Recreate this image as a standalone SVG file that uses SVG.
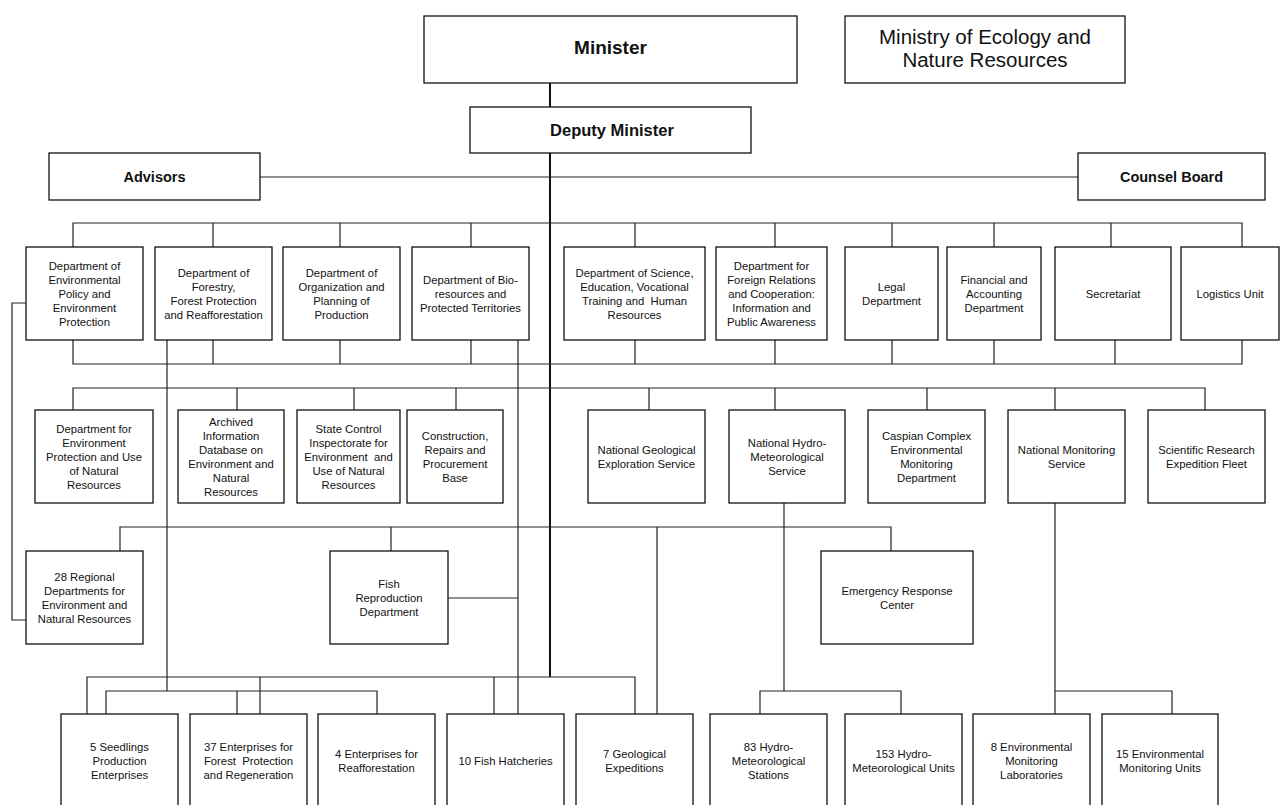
<svg xmlns="http://www.w3.org/2000/svg" width="1281" height="805" viewBox="0 0 1281 805">
<style>
.b{fill:#fff;stroke:#111;stroke-width:1.3}
.c{fill:none;stroke:#222;stroke-width:1.2}
.s{fill:none;stroke:#111;stroke-width:2}
text{font-family:"Liberation Sans",Arial,sans-serif;fill:#111;text-anchor:middle}
.t{font-size:11.3px;white-space:pre}
.h{font-weight:bold;font-size:14.5px}
</style>
<rect width="1281" height="805" fill="#fff"/>
<g id="connectors">
<path class="s" d="M550 83V107M550 153V677"/>
<path class="c" d="M260 177H1078"/>
<path class="c" d="M73 247V223H1242V247M213 223V247M340 223V247M471 223V247M635 223V247M775 223V247M892 223V247M994 223V247M1111 223V247"/>
<path class="c" d="M73 340V364H1242V340M213 340V364M340 340V364M471 340V364M635 340V364M775 340V364M892 340V364M994 340V364M1115 340V364"/>
<path class="c" d="M73 410V388H1205V410M237 388V410M354 388V410M456 388V410M649 388V410M775 388V410M927 388V410M1055 388V410"/>
<path class="c" d="M167 340V691M518 340V714M448 598H518"/>
<path class="c" d="M26 303H12V620H26"/>
<path class="c" d="M120 551V527H891V551M391 527V551M657 527V714"/>
<path class="c" d="M87 714V677H635V714M260 677V714M494 677V714"/>
<path class="c" d="M106 714V691H377V714M237 691V714"/>
<path class="c" d="M784 503V691M760 714V691H901V714"/>
<path class="c" d="M1055 503V714M1055 691H1172V714"/>
</g>
<g id="minister"><rect class="b" x="424" y="16" width="373" height="67"/><text x="610.5" y="54" style="font-size:19px;font-weight:bold">Minister</text></g>
<g id="ministry"><rect class="b" x="845" y="16" width="280" height="67"/><text x="985" y="44" style="font-size:20.5px">Ministry of Ecology and</text><text x="985" y="67" style="font-size:20.5px">Nature Resources</text></g>
<g id="deputy"><rect class="b" x="470" y="107" width="281" height="46"/><text x="612" y="136" style="font-size:16.5px;font-weight:bold">Deputy Minister</text></g>
<g id="advisors"><rect class="b" x="49" y="153" width="211" height="47"/><text class="h" x="154.5" y="182">Advisors</text></g>
<g id="counsel"><rect class="b" x="1078" y="153" width="187" height="47"/><text class="h" x="1171.5" y="182">Counsel Board</text></g>

<g id="d1"><rect class="b" x="26" y="247" width="117" height="93"/><text class="t" x="84.5" y="269.5"><tspan x="84.5">Department of</tspan><tspan x="84.5" dy="14">Environmental</tspan><tspan x="84.5" dy="14">Policy and</tspan><tspan x="84.5" dy="14">Environment</tspan><tspan x="84.5" dy="14">Protection</tspan></text></g>
<g id="d2"><rect class="b" x="155" y="247" width="117" height="93"/><text class="t" x="213.5" y="276.5"><tspan x="213.5">Department of</tspan><tspan x="213.5" dy="14">Forestry,</tspan><tspan x="213.5" dy="14">Forest Protection</tspan><tspan x="213.5" dy="14">and Reafforestation</tspan></text></g>
<g id="d3"><rect class="b" x="283" y="247" width="117" height="93"/><text class="t" x="341.5" y="276.5"><tspan x="341.5">Department of</tspan><tspan x="341.5" dy="14">Organization and</tspan><tspan x="341.5" dy="14">Planning of</tspan><tspan x="341.5" dy="14">Production</tspan></text></g>
<g id="d4"><rect class="b" x="412" y="247" width="117" height="93"/><text class="t" x="470.5" y="283.5"><tspan x="470.5">Department of Bio-</tspan><tspan x="470.5" dy="14">resources and</tspan><tspan x="470.5" dy="14">Protected Territories</tspan></text></g>
<g id="d5"><rect class="b" x="564" y="247" width="141" height="93"/><text class="t" x="634.5" y="276.5"><tspan x="634.5">Department of Science,</tspan><tspan x="634.5" dy="14">Education, Vocational</tspan><tspan x="634.5" dy="14">Training and  Human</tspan><tspan x="634.5" dy="14">Resources</tspan></text></g>
<g id="d6"><rect class="b" x="716" y="247" width="111" height="93"/><text class="t" x="771.5" y="269.5"><tspan x="771.5">Department for</tspan><tspan x="771.5" dy="14">Foreign Relations</tspan><tspan x="771.5" dy="14">and Cooperation:</tspan><tspan x="771.5" dy="14">Information and</tspan><tspan x="771.5" dy="14">Public Awareness</tspan></text></g>
<g id="d7"><rect class="b" x="845" y="247" width="93" height="93"/><text class="t" x="891.5" y="290.5"><tspan x="891.5">Legal</tspan><tspan x="891.5" dy="14">Department</tspan></text></g>
<g id="d8"><rect class="b" x="947" y="247" width="94" height="93"/><text class="t" x="994" y="283.5"><tspan x="994">Financial and</tspan><tspan x="994" dy="14">Accounting</tspan><tspan x="994" dy="14">Department</tspan></text></g>
<g id="d9"><rect class="b" x="1055" y="247" width="116" height="93"/><text class="t" x="1113" y="297.5">Secretariat</text></g>
<g id="d10"><rect class="b" x="1181" y="247" width="98" height="93"/><text class="t" x="1230" y="297.5">Logistics Unit</text></g>

<g id="s1"><rect class="b" x="35" y="410" width="118" height="93"/><text class="t" x="94" y="432.5"><tspan x="94">Department for</tspan><tspan x="94" dy="14">Environment</tspan><tspan x="94" dy="14">Protection and Use</tspan><tspan x="94" dy="14">of Natural</tspan><tspan x="94" dy="14">Resources</tspan></text></g>
<g id="s2"><rect class="b" x="178" y="410" width="106" height="93"/><text class="t" x="231" y="425.5"><tspan x="231">Archived</tspan><tspan x="231" dy="14">Information</tspan><tspan x="231" dy="14">Database on</tspan><tspan x="231" dy="14">Environment and</tspan><tspan x="231" dy="14">Natural</tspan><tspan x="231" dy="14">Resources</tspan></text></g>
<g id="s3"><rect class="b" x="297" y="410" width="103" height="93"/><text class="t" x="348.5" y="432.5"><tspan x="348.5">State Control</tspan><tspan x="348.5" dy="14">Inspectorate for</tspan><tspan x="348.5" dy="14">Environment  and</tspan><tspan x="348.5" dy="14">Use of Natural</tspan><tspan x="348.5" dy="14">Resources</tspan></text></g>
<g id="s4"><rect class="b" x="407" y="410" width="96" height="93"/><text class="t" x="455" y="439.5"><tspan x="455">Construction,</tspan><tspan x="455" dy="14">Repairs and</tspan><tspan x="455" dy="14">Procurement</tspan><tspan x="455" dy="14">Base</tspan></text></g>
<g id="s5"><rect class="b" x="588" y="410" width="117" height="93"/><text class="t" x="646.5" y="453.5"><tspan x="646.5">National Geological</tspan><tspan x="646.5" dy="14">Exploration Service</tspan></text></g>
<g id="s6"><rect class="b" x="729" y="410" width="116" height="93"/><text class="t" x="787" y="446.5"><tspan x="787">National Hydro-</tspan><tspan x="787" dy="14">Meteorological</tspan><tspan x="787" dy="14">Service</tspan></text></g>
<g id="s7"><rect class="b" x="868" y="410" width="117" height="93"/><text class="t" x="926.5" y="439.5"><tspan x="926.5">Caspian Complex</tspan><tspan x="926.5" dy="14">Environmental</tspan><tspan x="926.5" dy="14">Monitoring</tspan><tspan x="926.5" dy="14">Department</tspan></text></g>
<g id="s8"><rect class="b" x="1008" y="410" width="117" height="93"/><text class="t" x="1066.5" y="453.5"><tspan x="1066.5">National Monitoring</tspan><tspan x="1066.5" dy="14">Service</tspan></text></g>
<g id="s9"><rect class="b" x="1148" y="410" width="117" height="93"/><text class="t" x="1206.5" y="453.5"><tspan x="1206.5">Scientific Research</tspan><tspan x="1206.5" dy="14">Expedition Fleet</tspan></text></g>

<g id="r1"><rect class="b" x="26" y="551" width="117" height="93"/><text class="t" x="84.5" y="580.5"><tspan x="84.5">28 Regional</tspan><tspan x="84.5" dy="14">Departments for</tspan><tspan x="84.5" dy="14">Environment and</tspan><tspan x="84.5" dy="14">Natural Resources</tspan></text></g>
<g id="r2"><rect class="b" x="330" y="551" width="118" height="93"/><text class="t" x="389" y="587.5"><tspan x="389">Fish</tspan><tspan x="389" dy="14">Reproduction</tspan><tspan x="389" dy="14">Department</tspan></text></g>
<g id="r3"><rect class="b" x="821" y="551" width="152" height="93"/><text class="t" x="897" y="594.5"><tspan x="897">Emergency Response</tspan><tspan x="897" dy="14">Center</tspan></text></g>

<g id="u1"><rect class="b" x="61" y="714" width="117" height="93"/><text class="t" x="119.5" y="750.5"><tspan x="119.5">5 Seedlings</tspan><tspan x="119.5" dy="14">Production</tspan><tspan x="119.5" dy="14">Enterprises</tspan></text></g>
<g id="u2"><rect class="b" x="190" y="714" width="117" height="93"/><text class="t" x="248.5" y="750.5"><tspan x="248.5">37 Enterprises for</tspan><tspan x="248.5" dy="14">Forest  Protection</tspan><tspan x="248.5" dy="14">and Regeneration</tspan></text></g>
<g id="u3"><rect class="b" x="318" y="714" width="117" height="93"/><text class="t" x="376.5" y="757.5"><tspan x="376.5">4 Enterprises for</tspan><tspan x="376.5" dy="14">Reafforestation</tspan></text></g>
<g id="u4"><rect class="b" x="447" y="714" width="117" height="93"/><text class="t" x="505.5" y="764.5">10 Fish Hatcheries</text></g>
<g id="u5"><rect class="b" x="576" y="714" width="117" height="93"/><text class="t" x="634.5" y="757.5"><tspan x="634.5">7 Geological</tspan><tspan x="634.5" dy="14">Expeditions</tspan></text></g>
<g id="u6"><rect class="b" x="710" y="714" width="117" height="93"/><text class="t" x="768.5" y="750.5"><tspan x="768.5">83 Hydro-</tspan><tspan x="768.5" dy="14">Meteorological</tspan><tspan x="768.5" dy="14">Stations</tspan></text></g>
<g id="u7"><rect class="b" x="845" y="714" width="117" height="93"/><text class="t" x="903.5" y="757.5"><tspan x="903.5">153 Hydro-</tspan><tspan x="903.5" dy="14">Meteorological Units</tspan></text></g>
<g id="u8"><rect class="b" x="973" y="714" width="117" height="93"/><text class="t" x="1031.5" y="750.5"><tspan x="1031.5">8 Environmental</tspan><tspan x="1031.5" dy="14">Monitoring</tspan><tspan x="1031.5" dy="14">Laboratories</tspan></text></g>
<g id="u9"><rect class="b" x="1102" y="714" width="116" height="93"/><text class="t" x="1160" y="757.5"><tspan x="1160">15 Environmental</tspan><tspan x="1160" dy="14">Monitoring Units</tspan></text></g>
</svg>
